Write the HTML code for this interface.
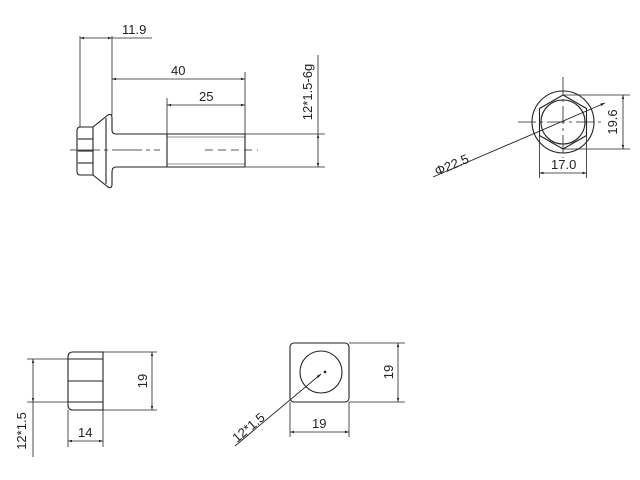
<!DOCTYPE html>
<html><head><style>
body{margin:0;background:#fff}
svg{display:block}
text{font-family:"Liberation Sans",sans-serif;font-size:13px;fill:#222}
</style></head><body>
<svg width="640" height="480" viewBox="0 0 640 480" xmlns="http://www.w3.org/2000/svg">
<defs>
<marker id="a" viewBox="0 0 10 10" refX="10" refY="5" markerWidth="7" markerHeight="5" orient="auto-start-reverse"><path d="M0,2 L10,5 L0,8 z" fill="#222"/></marker>
</defs>
<g stroke="#222" stroke-width="1.1" fill="none">
<path d="M93,127 L80,127 Q77,127 77,131 L77,171 Q77,175 80,175 L93,175 Z"/>
<line x1="78" y1="139" x2="93" y2="139"/><line x1="78" y1="151" x2="93" y2="151"/><line x1="78" y1="163" x2="93" y2="163"/>
<path d="M93,127 L108,115 Q112,113 112,118 L112,130 Q112,134 116,134 L245,134"/>
<path d="M93,175 L108,187 Q112,189 112,184 L112,172 Q112,167 116,167 L245,167"/>
<line x1="106" y1="118" x2="106" y2="184"/>
<line x1="245" y1="134" x2="245" y2="167"/>
<line x1="167" y1="134" x2="167" y2="167"/>
<line x1="167" y1="137" x2="245" y2="137" stroke-width="0.6"/><line x1="167" y1="164" x2="245" y2="164" stroke-width="0.6"/>
<line x1="70" y1="150" x2="160" y2="150" stroke-dasharray="30,4,4,4" stroke-width="0.8"/>
<line x1="205" y1="150" x2="258" y2="150" stroke-dasharray="8,5" stroke-width="0.8"/>
<line x1="80" y1="36" x2="80" y2="127" stroke-width="0.8"/>
<line x1="112" y1="36" x2="112" y2="115" stroke-width="0.8"/>
<line x1="80" y1="38" x2="112" y2="38" marker-start="url(#a)" marker-end="url(#a)" stroke-width="0.8"/>
<line x1="112" y1="38" x2="152" y2="38" stroke-width="0.8"/>
<line x1="245" y1="72" x2="245" y2="134" stroke-width="0.8"/>
<line x1="112" y1="79" x2="245" y2="79" marker-start="url(#a)" marker-end="url(#a)" stroke-width="0.8"/>
<line x1="167" y1="98" x2="167" y2="134" stroke-width="0.8"/>
<line x1="167" y1="105" x2="245" y2="105" marker-start="url(#a)" marker-end="url(#a)" stroke-width="0.8"/>
<line x1="245" y1="134" x2="325" y2="134" stroke-width="0.8"/>
<line x1="245" y1="167" x2="325" y2="167" stroke-width="0.8"/>
<line x1="318" y1="55" x2="318" y2="134" stroke-width="0.8"/>
<line x1="318" y1="134" x2="318" y2="167" marker-start="url(#a)" marker-end="url(#a)" stroke-width="0.8"/>
<circle cx="563" cy="122" r="31"/>
<circle cx="563" cy="122" r="22"/>
<polygon points="563,95 586.5,108.5 586.5,135.5 563,149 539.5,135.5 539.5,108.5"/>
<line x1="518" y1="122" x2="605" y2="122" stroke-dasharray="18,4,3,4" stroke-width="0.8"/>
<line x1="563" y1="77" x2="563" y2="158" stroke-dasharray="18,4,3,4" stroke-width="0.8"/>
<line x1="539.5" y1="135" x2="539.5" y2="178" stroke-width="0.8"/>
<line x1="586.5" y1="135" x2="586.5" y2="178" stroke-width="0.8"/>
<line x1="539.5" y1="173" x2="586.5" y2="173" marker-start="url(#a)" marker-end="url(#a)" stroke-width="0.8"/>
<line x1="563" y1="95" x2="630" y2="95" stroke-width="0.8"/>
<line x1="563" y1="149" x2="630" y2="149" stroke-width="0.8"/>
<line x1="623" y1="95" x2="623" y2="149" marker-start="url(#a)" marker-end="url(#a)" stroke-width="0.8"/>
<line x1="433" y1="177" x2="605" y2="103" stroke-width="0.9" marker-end="url(#a)"/>
<path d="M103,352 L73,352 Q68,352 68,357 L68,405 Q68,410 73,410 L103,410 Z"/>
<line x1="68" y1="359" x2="103" y2="359"/><line x1="68" y1="381" x2="103" y2="381"/><line x1="68" y1="402" x2="103" y2="402"/>
<line x1="27" y1="359" x2="68" y2="359" stroke-width="0.8"/>
<line x1="27" y1="402" x2="68" y2="402" stroke-width="0.8"/>
<line x1="33" y1="359" x2="33" y2="402" marker-start="url(#a)" marker-end="url(#a)" stroke-width="0.8"/>
<line x1="33" y1="402" x2="33" y2="457" stroke-width="0.8"/>
<line x1="103" y1="352" x2="157" y2="352" stroke-width="0.8"/>
<line x1="103" y1="410" x2="157" y2="410" stroke-width="0.8"/>
<line x1="152" y1="352" x2="152" y2="410" marker-start="url(#a)" marker-end="url(#a)" stroke-width="0.8"/>
<line x1="68" y1="410" x2="68" y2="447" stroke-width="0.8"/>
<line x1="103" y1="410" x2="103" y2="447" stroke-width="0.8"/>
<line x1="68" y1="441" x2="103" y2="441" marker-start="url(#a)" marker-end="url(#a)" stroke-width="0.8"/>
<rect x="290" y="343" width="59" height="59" rx="4"/>
<circle cx="321" cy="372" r="21"/>
<circle cx="325" cy="372" r="0.8" fill="#222"/>
<line x1="349" y1="343" x2="405" y2="343" stroke-width="0.8"/>
<line x1="349" y1="402" x2="405" y2="402" stroke-width="0.8"/>
<line x1="398" y1="343" x2="398" y2="402" marker-start="url(#a)" marker-end="url(#a)" stroke-width="0.8"/>
<line x1="290" y1="402" x2="290" y2="437" stroke-width="0.8"/>
<line x1="349" y1="402" x2="349" y2="437" stroke-width="0.8"/>
<line x1="290" y1="432" x2="349" y2="432" marker-start="url(#a)" marker-end="url(#a)" stroke-width="0.8"/>
<line x1="235" y1="446" x2="321" y2="374" stroke-width="0.9" marker-end="url(#a)"/>
</g>
<text x="122" y="34">11.9</text>
<text x="171" y="75">40</text>
<text x="199" y="101">25</text>
<text transform="translate(312,92) rotate(-90)" text-anchor="middle">12*1.5-6g</text>
<text x="551" y="169">17.0</text>
<text transform="translate(617,122) rotate(-90)" text-anchor="middle">19.6</text>
<text transform="translate(437,176) rotate(-23)">Φ22.5</text>
<text transform="translate(26,431) rotate(-90)" text-anchor="middle">12*1.5</text>
<text transform="translate(147,381) rotate(-90)" text-anchor="middle">19</text>
<text x="78" y="437">14</text>
<text transform="translate(393,372) rotate(-90)" text-anchor="middle">19</text>
<text x="312" y="428">19</text>
<text transform="translate(237,443) rotate(-40)">12*1.5</text>
</svg>
</body></html>
